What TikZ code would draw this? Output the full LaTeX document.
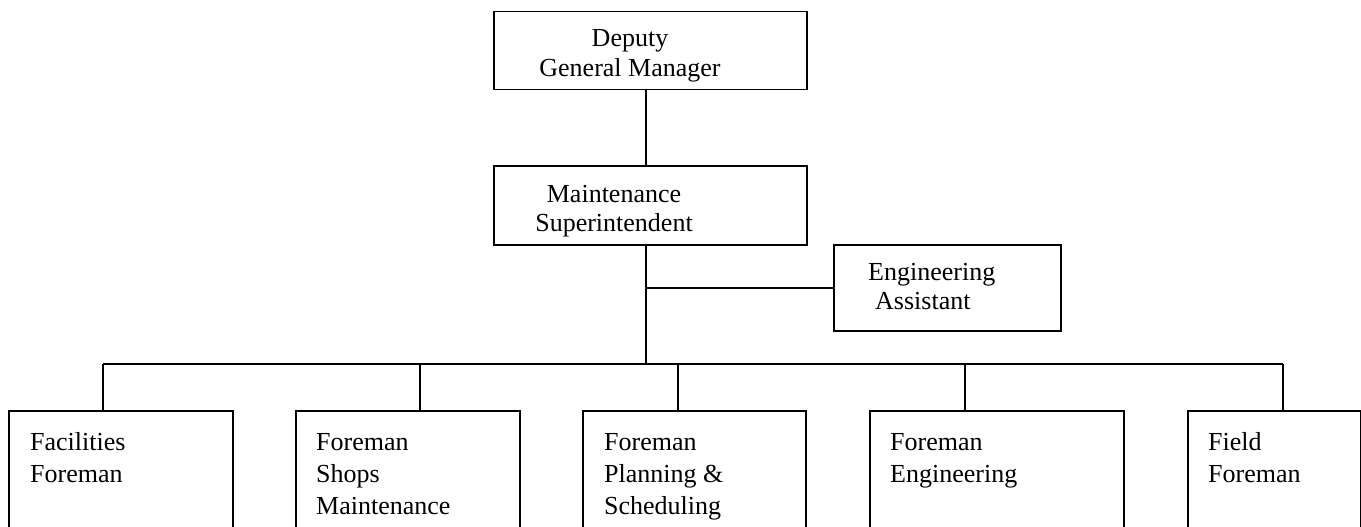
\documentclass[tikz,border=0pt]{standalone}
\usepackage{fontspec}
\setmainfont{Liberation Serif}
\usetikzlibrary{positioning}

\begin{document}
\begin{tikzpicture}[
x=1pt,
y=-1pt,
unit/.style={
draw,
line width=1.5pt,
anchor=north west,
inner sep=0pt
},
lbl/.style={
font=\fontsize{26}{32}\selectfont,
inner sep=0pt
},
link/.style={
line width=1.5pt
}
]

\useasboundingbox (0,0) rectangle (1361,527);
\clip (0,0) rectangle (1361,527);

\node[unit, minimum width=313pt, minimum height=78pt] (DGM) at (493,11)
{};

\node[unit, minimum width=313pt, minimum height=79pt] (MS) at (493,165)
{};

\node[unit, minimum width=227pt, minimum height=86pt] (EA) at (833,244)
{};

\node[unit, minimum width=224pt, minimum height=150pt] (FF) at (8,410)
{};

\node[unit, minimum width=224pt, minimum height=150pt] (FS) at (295,410)
{};

\node[unit, minimum width=223pt, minimum height=150pt] (FP) at (582,410)
{};

\node[unit, minimum width=254pt, minimum height=150pt] (FE) at (869,410)
{};

\node[unit, minimum width=173pt, minimum height=150pt] (FD) at (1187,410)
{};

\node[lbl, align=center, anchor=base, font=\fontsize{26}{30}\selectfont] (DGMtext) at (630,77)
{Deputy\\General Manager};

\node[lbl, align=center, anchor=base, font=\fontsize{26}{29}\selectfont] (MStext) at (614,231)
{Maintenance\\Superintendent};

\node[lbl, align=left, anchor=base west, font=\fontsize{26}{29}\selectfont] (EAtext) at (868,309)
{Engineering\\\hspace*{7pt}Assistant};

\node[lbl, align=left, anchor=base west] (FFtext) at (30,482)
{Facilities\\Foreman};

\node[lbl, align=left, anchor=base west] (FStext) at (316,514)
{Foreman\\Shops\\Maintenance};

\node[lbl, align=left, anchor=base west] (FPtext) at (604,514)
{Foreman\\Planning \&\\Scheduling};

\node[lbl, align=left, anchor=base west] (FEtext) at (890,482)
{Foreman\\Engineering};

\node[lbl, align=left, anchor=base west] (FDtext) at (1208,482)
{Field\\Foreman};

\coordinate (Trunk) at (646,364);
\coordinate (D1) at (103,364);
\coordinate (D2) at (420,364);
\coordinate (D3) at (678,364);
\coordinate (D4) at (965,364);
\coordinate (D5) at (1283,364);

\draw[link] (DGM.south -| Trunk) -- (MS.north -| Trunk);
\draw[link] (MS.south -| Trunk) -- (Trunk);
\draw[link] (EA.west -| Trunk) -- (EA.west);
\draw[link] (D1) -- (D5);
\draw[link] (D1) -- (D1 |- FF.north);
\draw[link] (D2) -- (D2 |- FS.north);
\draw[link] (D3) -- (D3 |- FP.north);
\draw[link] (D4) -- (D4 |- FE.north);
\draw[link] (D5) -- (D5 |- FD.north);

\end{tikzpicture}
\end{document}
